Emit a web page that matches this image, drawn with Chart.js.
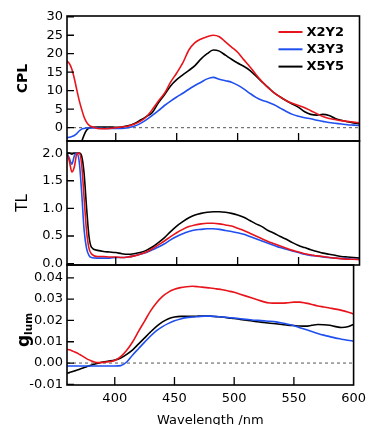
<!DOCTYPE html>
<html><head><meta charset="utf-8">
<script src="https://cdn.jsdelivr.net/npm/chart.js@4/dist/chart.umd.min.js"></script>
<style>
html,body{margin:0;padding:0;background:#fff;}
#wrap{position:relative;width:372px;height:425px;overflow:hidden;background:#fff;}
canvas{position:absolute;left:0;}
</style></head><body>
<div id="wrap">
<canvas id="cA" width="372" height="155" style="top:0px"></canvas>
<canvas id="cB" width="372" height="150" style="top:129px"></canvas>
<canvas id="cC" width="372" height="182" style="top:253px"></canvas>
</div>
<script>
// ---------------- data ----------------
const wavelength = [360,362,364,366,368,370,372,374,376,378,380,385,390,395,400,405,410,415,420,425,430,435,440,445,450,455,460,465,470,475,480,485,490,495,500,505,510,515,520,525,530,535,540,545,550,555,560,565,570,575,580,585,590,595,600];
const seriesNames = ['X2Y2','X3Y3','X5Y5'];
const seriesColors = ['#e8141c','#1f4fef','#000000'];

const cplX2Y2 = [18.0,17.3,15.8,13.3,10.3,7.4,5.0,2.9,1.5,0.7,0.3,-0.2,-0.3,-0.2,0.0,0.2,0.4,0.9,1.7,2.9,4.9,7.2,9.3,12.3,14.8,17.5,21.0,23.0,24.0,24.6,25.0,24.6,23.2,21.8,20.4,18.4,16.5,14.4,12.5,10.8,9.4,8.3,7.3,6.6,6.0,5.4,4.6,3.8,3.0,2.5,2.2,1.9,1.7,1.5,1.3];
const cplX3Y3 = [-2.7,-2.6,-2.4,-2.1,-1.6,-0.9,-0.4,-0.2,-0.1,-0.1,-0.1,-0.1,-0.2,-0.2,-0.2,-0.2,0.0,0.4,1.1,2.1,3.3,4.6,6.0,7.2,8.3,9.3,10.4,11.4,12.3,13.2,13.6,13.1,12.7,12.3,11.5,10.5,9.3,8.2,7.4,6.9,6.2,5.3,4.4,3.6,3.1,2.7,2.4,2.0,1.7,1.4,1.2,1.0,0.8,0.7,0.6];
const cplX5Y5 = [-20,-17,-14,-11,-8.5,-6,-3.8,-2.0,-0.7,-0.1,0.1,0.2,0.2,0.2,0.1,0.2,0.5,1.1,2.0,3.0,4.1,6.7,8.9,11.3,13.0,14.3,15.5,16.8,18.6,20.0,21.0,20.7,19.6,18.5,17.5,16.6,15.5,14.0,12.4,10.9,9.4,8.3,7.3,6.4,5.5,4.3,3.6,3.4,3.6,3.3,2.5,2.0,1.6,1.3,1.1];

const tlX2Y2 = [2.00,1.85,1.66,1.75,1.98,2.00,1.80,1.20,0.60,0.28,0.18,0.13,0.13,0.12,0.12,0.11,0.12,0.14,0.17,0.21,0.27,0.34,0.41,0.49,0.56,0.62,0.67,0.70,0.72,0.73,0.73,0.72,0.70,0.68,0.64,0.60,0.55,0.50,0.45,0.40,0.36,0.32,0.28,0.24,0.21,0.18,0.16,0.14,0.13,0.11,0.10,0.09,0.08,0.08,0.07];
const tlX3Y3 = [2.00,1.90,1.80,1.95,2.00,1.85,1.30,0.62,0.28,0.15,0.11,0.10,0.10,0.10,0.11,0.11,0.12,0.14,0.17,0.20,0.25,0.30,0.36,0.43,0.49,0.54,0.58,0.61,0.62,0.63,0.63,0.62,0.60,0.58,0.56,0.53,0.49,0.45,0.41,0.37,0.33,0.29,0.26,0.23,0.20,0.17,0.15,0.14,0.12,0.11,0.10,0.09,0.09,0.08,0.08];
const tlX5Y5 = [2.00,2.00,1.98,2.00,2.00,2.00,1.95,1.64,1.03,0.50,0.30,0.24,0.22,0.21,0.20,0.18,0.17,0.18,0.20,0.24,0.30,0.38,0.47,0.58,0.68,0.76,0.83,0.88,0.91,0.93,0.94,0.94,0.93,0.91,0.88,0.84,0.78,0.72,0.67,0.60,0.55,0.49,0.44,0.38,0.33,0.29,0.25,0.22,0.19,0.17,0.15,0.13,0.12,0.11,0.10];

const glumX2Y2 = [0.0064,0.0062,0.0058,0.0053,0.0048,0.0042,0.0036,0.0029,0.0022,0.0016,0.0011,0.0002,0.0003,0.0006,0.0012,0.0030,0.0060,0.0100,0.0150,0.0197,0.0245,0.0283,0.0313,0.0333,0.0346,0.0354,0.0358,0.0360,0.0358,0.0355,0.0352,0.0348,0.0344,0.0338,0.0332,0.0323,0.0314,0.0305,0.0296,0.0287,0.0282,0.0281,0.0281,0.0283,0.0286,0.0286,0.0281,0.0275,0.0268,0.0263,0.0258,0.0253,0.0247,0.0240,0.0230];
const glumX3Y3 = [-0.0014,-0.0014,-0.0014,-0.0014,-0.0014,-0.0014,-0.0014,-0.0014,-0.0014,-0.0014,-0.0014,-0.0014,-0.0014,-0.0014,-0.0014,-0.0012,0.0005,0.0038,0.0068,0.0098,0.0127,0.0152,0.0171,0.0186,0.0198,0.0207,0.0213,0.0216,0.0218,0.0220,0.0220,0.0218,0.0216,0.0214,0.0211,0.0208,0.0205,0.0202,0.0200,0.0198,0.0196,0.0193,0.0188,0.0182,0.0175,0.0166,0.0157,0.0148,0.0139,0.0131,0.0124,0.0117,0.0112,0.0107,0.0103];
const glumX5Y5 = [-0.0048,-0.0045,-0.0041,-0.0037,-0.0034,-0.0030,-0.0026,-0.0022,-0.0018,-0.0014,-0.0010,-0.0002,0.0005,0.0009,0.0014,0.0024,0.0041,0.0062,0.0090,0.0118,0.0146,0.0172,0.0193,0.0208,0.0216,0.0219,0.0219,0.0219,0.0220,0.0221,0.0220,0.0218,0.0216,0.0212,0.0209,0.0205,0.0201,0.0197,0.0194,0.0190,0.0187,0.0184,0.0181,0.0178,0.0176,0.0174,0.0173,0.0177,0.0181,0.0180,0.0177,0.0171,0.0167,0.0170,0.0181];

const xTickLabels = [400,450,500,550,600];
const cplTicks = [0,5,10,15,20,25,30];
const tlTicks = [0.0,0.5,1.0,1.5,2.0];
const glumTicks = [-0.01,0.00,0.01,0.02,0.03,0.04];

// ---------------- drawing ----------------
const FONT = 'DejaVu Sans';
const X_MIN = 360, X_MAX = 600;

const panelPlugin = {
  id: 'panel',
  beforeDatasetsDraw(chart, args, o) {
    if (!o.zeroLine) return;
    const {ctx, chartArea: a, scales} = chart;
    const y = scales.y.getPixelForValue(0);
    ctx.save();
    ctx.strokeStyle = '#555';
    ctx.lineWidth = 1;
    ctx.setLineDash([3, 3]);
    ctx.beginPath(); ctx.moveTo(a.left, y); ctx.lineTo(a.right, y); ctx.stroke();
    ctx.restore();
  },
  afterDraw(chart, args, o) {
    const {ctx, chartArea: a, scales} = chart;
    ctx.save();
    ctx.strokeStyle = '#000';
    ctx.lineWidth = 1.6;
    ctx.strokeRect(a.left, a.top, a.right - a.left, a.bottom - a.top);
    ctx.lineWidth = 1.3;
    ctx.beginPath();
    scales.y.ticks.forEach(t => {
      const y = scales.y.getPixelForValue(t.value);
      ctx.moveTo(a.left, y); ctx.lineTo(a.left + 7, y);
    });
    xTickLabels.forEach(v => {
      if (v > X_MIN && v < X_MAX) {
        const x = scales.x.getPixelForValue(v);
        ctx.moveTo(x, a.bottom); ctx.lineTo(x, a.bottom - 8);
      }
    });
    ctx.stroke();
    if (o.legend) {
      const ds = chart.data.datasets;
      ctx.font = 'bold 13px "' + FONT + '"';
      ctx.textBaseline = 'middle';
      ctx.textAlign = 'left';
      ds.forEach((d, i) => {
        const y = a.top + 16 + i * 17.3;
        ctx.strokeStyle = d.borderColor;
        ctx.lineWidth = 2;
        ctx.beginPath(); ctx.moveTo(a.right - 81, y); ctx.lineTo(a.right - 57, y); ctx.stroke();
        ctx.fillStyle = '#000';
        ctx.fillText(d.label, a.right - 53, y + 0.5);
      });
    }
    if (o.glumTitle) {
      const cy = (a.top + a.bottom) / 2 + 5;
      ctx.fillStyle = '#000';
      ctx.textBaseline = 'alphabetic';
      ctx.textAlign = 'left';
      const f1 = 'bold 17px "' + FONT + '"', f2 = 'bold 10.5px "' + FONT + '"';
      ctx.font = f1; const w1 = ctx.measureText('g').width;
      ctx.font = f2; const w2 = ctx.measureText('lum').width;
      ctx.translate(29, cy + (w1 + w2) / 2);
      ctx.rotate(-Math.PI / 2);
      ctx.font = f1; ctx.fillText('g', 0, 0);
      ctx.font = f2; ctx.fillText('lum', w1, 3);
    }
    ctx.restore();
  }
};

function makeDatasets(arrs) {
  return arrs.map((arr, i) => ({
    label: seriesNames[i],
    data: wavelength.map((w, k) => ({x: w, y: arr[k]})),
    borderColor: seriesColors[i],
    backgroundColor: seriesColors[i],
    borderWidth: 1.6,
    pointRadius: 0,
    cubicInterpolationMode: 'monotone',
    fill: false
  }));
}

function makeChart(id, arrs, cfg) {
  const showX = !!cfg.showX;
  return new Chart(document.getElementById(id), {
    type: 'line',
    data: {datasets: makeDatasets(arrs).reverse().reverse()},
    options: {
      responsive: false,
      animation: false,
      events: [],
      layout: {padding: cfg.padding},
      plugins: {
        legend: {display: false},
        tooltip: {enabled: false},
        panel: {zeroLine: !!cfg.zeroLine, legend: !!cfg.legend, glumTitle: !!cfg.glumTitle}
      },
      scales: {
        x: {
          type: 'linear', min: X_MIN, max: X_MAX,
          display: showX,
          grid: {display: false, drawTicks: false},
          border: {display: false},
          afterBuildTicks: s => { s.ticks = xTickLabels.map(v => ({value: v})); },
          afterFit: s => { if (showX) s.height = 50; },
          ticks: {
            color: '#000', padding: 6, maxRotation: 0, autoSkip: false,
            font: {family: FONT, size: 13},
            callback: v => String(v)
          },
          title: {
            display: showX, text: 'Wavelength /nm', color: '#000',
            font: {family: FONT, size: 13},
            padding: {top: 0, bottom: 7}
          }
        },
        y: {
          type: 'linear', min: cfg.min, max: cfg.max,
          grid: {display: false, drawTicks: false},
          border: {display: false},
          afterBuildTicks: s => { s.ticks = cfg.ticks.map(v => ({value: v})); },
          afterFit: s => { s.width = 67; },
          ticks: {
            color: '#000', padding: 4, autoSkip: false,
            font: {family: FONT, size: 13},
            callback: v => Number(v).toFixed(cfg.digits)
          },
          title: cfg.yTitle ? {
            display: true, text: cfg.yTitle, color: '#000',
            font: {family: FONT, size: cfg.yTitleSize, weight: cfg.yTitleBold ? 'bold' : 'normal'},
            padding: {top: cfg.yTitlePad, bottom: 0}
          } : {display: false}
        }
      }
    },
    plugins: [panelPlugin]
  });
}

makeChart('cA', [cplX2Y2, cplX3Y3, cplX5Y5], {
  min: -3.6, max: 30.2, ticks: cplTicks, digits: 0,
  padding: {top: 16, bottom: 14, left: 0, right: 12.5},
  zeroLine: true, legend: true,
  yTitle: 'CPL', yTitleSize: 14, yTitleBold: true, yTitlePad: 14.5
});
makeChart('cB', [tlX2Y2, tlX3Y3, tlX5Y5], {
  min: -0.025, max: 2.22, ticks: tlTicks, digits: 1,
  padding: {top: 12, bottom: 14, left: 0, right: 12.5},
  yTitle: 'TL', yTitleSize: 15, yTitleBold: false, yTitlePad: 14
});
makeChart('cC', [glumX2Y2, glumX3Y3, glumX5Y5], {
  min: -0.0103, max: 0.046, ticks: glumTicks, digits: 2,
  padding: {top: 12, bottom: 0, left: 0, right: 12.5},
  zeroLine: true, glumTitle: true, showX: true
});
</script>
</body></html>
